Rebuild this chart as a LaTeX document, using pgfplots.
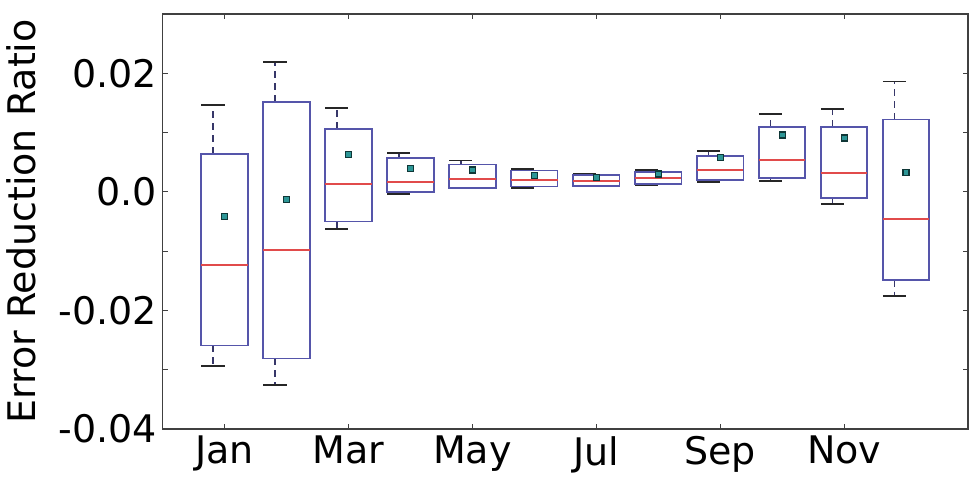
\documentclass[border=0pt]{standalone}
\usepackage{fontspec}
\setmainfont{DejaVu Sans}
\usepackage{pgfplots}
\pgfplotsset{compat=1.18}
\usepgfplotslibrary{statistics}
\definecolor{boxblue}{RGB}{85,85,170}
\definecolor{medred}{RGB}{225,75,75}
\definecolor{whisk}{RGB}{55,55,105}
\definecolor{meanfill}{RGB}{45,150,150}
\definecolor{meanedge}{RGB}{15,55,55}
\begin{document}
\begin{tikzpicture}
% y values are given in units of 0.01 (tick labels show the real values)
\begin{axis}[
  scale only axis, width=805.4pt, height=415pt,
  xmin=0, xmax=13, ymin=-4, ymax=3,
  xtick={1,3,5,7,9,11}, xticklabels={Jan,Mar,May,Jul,Sep,Nov},
  ytick={-4,-3,-2,-1,0,1,2,3},
  yticklabels={{-0.04},{},{-0.02},{},{0.0},{},{0.02},{}},
  tick align=inside, major tick length=5pt,
  axis line style={draw=black!75, line width=1.1pt},
  tick style={black!75, line width=0.8pt},
  ticklabel style={font=\fontsize{38}{40}\selectfont, inner sep=0pt},
  xticklabel style={yshift=-7pt},
  yticklabel style={xshift=-5.5pt},
  ylabel={Error Reduction Ratio},
  every axis y label/.style={at={([xshift=-156.6pt]axis description cs:0,0.5)}, rotate=90, anchor=north, inner sep=0pt, font=\fontsize{38}{40}\selectfont},
  every axis plot/.append style={draw=boxblue, line width=1.8pt},
  boxplot/draw direction=y,
  boxplot/box extend=0.75,
  boxplot/whisker extend=0.375,
  boxplot/every box/.style={draw=boxblue, line width=1.8pt},
  boxplot/every median/.style={draw=medred, line width=2pt},
  boxplot/draw/average/.code={
    \draw[draw=meanedge, fill=meanfill, line width=1.2pt]
      ([shift={(-3pt,-3pt)}]boxplot cs:\pgfplotsboxplotvalue{average},0) rectangle
      ([shift={(3pt,3pt)}]boxplot cs:\pgfplotsboxplotvalue{average},0);
  },
  boxplot/draw/lower whisker/.code={
    \draw[whisk, line width=1.6pt, dash pattern=on 7pt off 5pt]
      (boxplot whisker cs:\pgfplotsboxplotvalue{lower quartile},0) --
      (boxplot whisker cs:\pgfplotsboxplotvalue{lower whisker},0);
    \draw[black!85, line width=1.8pt]
      (boxplot whisker cs:\pgfplotsboxplotvalue{lower whisker},-0.5) --
      (boxplot whisker cs:\pgfplotsboxplotvalue{lower whisker},0.5);
  },
  boxplot/draw/upper whisker/.code={
    \draw[whisk, line width=1.6pt, dash pattern=on 7pt off 5pt]
      (boxplot whisker cs:\pgfplotsboxplotvalue{upper quartile},0) --
      (boxplot whisker cs:\pgfplotsboxplotvalue{upper whisker},0);
    \draw[black!85, line width=1.8pt]
      (boxplot whisker cs:\pgfplotsboxplotvalue{upper whisker},-0.5) --
      (boxplot whisker cs:\pgfplotsboxplotvalue{upper whisker},0.5);
  },
]
\addplot[boxplot prepared={draw position=1, lower whisker=-2.94, lower quartile=-2.59, median=-1.24, upper quartile=0.64, upper whisker=1.47, average=-0.42}] coordinates {};
\addplot[boxplot prepared={draw position=2, lower whisker=-3.26, lower quartile=-2.81, median=-0.98, upper quartile=1.52, upper whisker=2.19, average=-0.13}] coordinates {};
\addplot[boxplot prepared={draw position=3, lower whisker=-0.63, lower quartile=-0.50, median=0.14, upper quartile=1.06, upper whisker=1.41, average=0.63}] coordinates {};
\addplot[boxplot prepared={draw position=4, lower whisker=-0.04, lower quartile=0.00, median=0.17, upper quartile=0.57, upper whisker=0.66, average=0.40}] coordinates {};
\addplot[boxplot prepared={draw position=5, lower whisker=0.06, lower quartile=0.07, median=0.21, upper quartile=0.46, upper whisker=0.53, average=0.37}] coordinates {};
\addplot[boxplot prepared={draw position=6, lower whisker=0.07, lower quartile=0.09, median=0.20, upper quartile=0.36, upper whisker=0.38, average=0.28}] coordinates {};
\addplot[boxplot prepared={draw position=7, lower whisker=0.09, lower quartile=0.10, median=0.18, upper quartile=0.28, upper whisker=0.31, average=0.24}] coordinates {};
\addplot[boxplot prepared={draw position=8, lower whisker=0.11, lower quartile=0.13, median=0.23, upper quartile=0.34, upper whisker=0.37, average=0.30}] coordinates {};
\addplot[boxplot prepared={draw position=9, lower whisker=0.17, lower quartile=0.20, median=0.37, upper quartile=0.61, upper whisker=0.69, average=0.58}] coordinates {};
\addplot[boxplot prepared={draw position=10, lower whisker=0.18, lower quartile=0.23, median=0.53, upper quartile=1.09, upper whisker=1.31, average=0.96}] coordinates {};
\addplot[boxplot prepared={draw position=11, lower whisker=-0.21, lower quartile=-0.11, median=0.31, upper quartile=1.09, upper whisker=1.40, average=0.91}] coordinates {};
\addplot[boxplot prepared={draw position=12, lower whisker=-1.76, lower quartile=-1.48, median=-0.45, upper quartile=1.22, upper whisker=1.86, average=0.32}] coordinates {};
\end{axis}
\pgfresetboundingbox
\path ([shift={(-162.6pt,-50pt)}]current axis.south west) rectangle ([shift={(8pt,14pt)}]current axis.north east);
\end{tikzpicture}
\end{document}
